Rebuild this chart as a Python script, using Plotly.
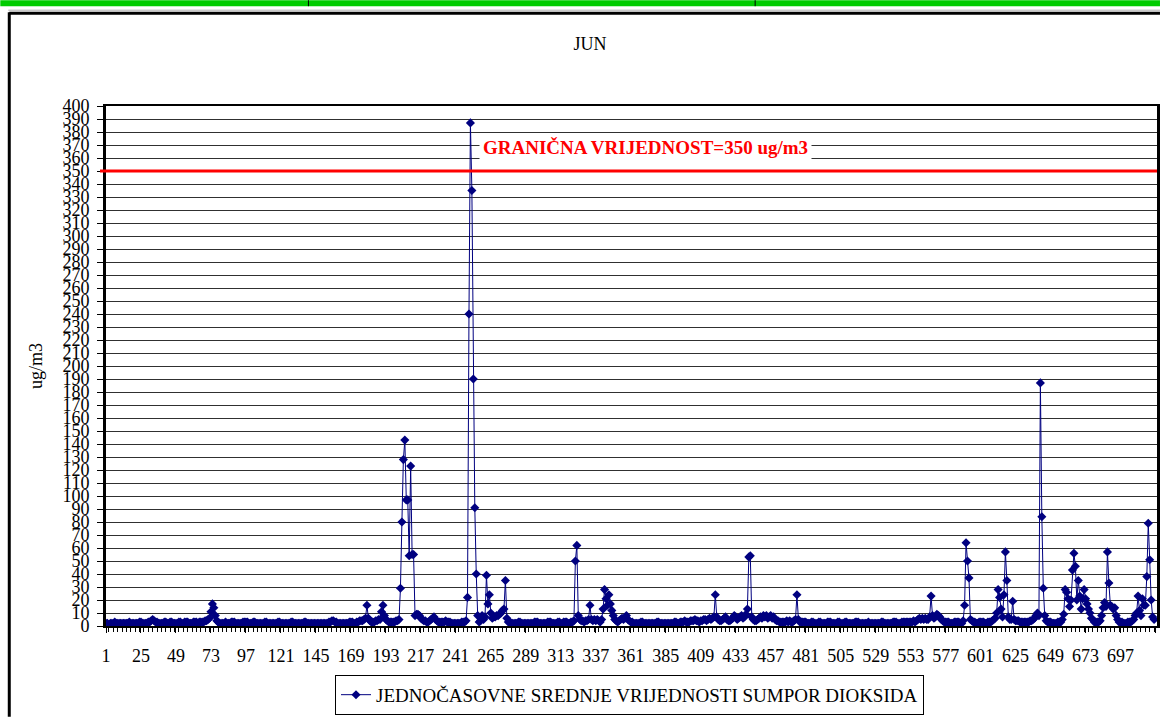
import plotly.graph_objects as go

# hourly SO2 means for June (ug/m3), one row per day
dani_1_10 = [
    2, 2, 1, 2, 2, 2, 3, 2, 2, 2, 2, 2, 2, 2, 2, 2, 3, 2, 2, 2, 2, 2, 2, 3,
    3, 2, 2, 2, 2, 3, 3, 4, 5, 4, 3, 3, 2, 2, 2, 2, 3, 3, 2, 2, 3, 3, 2, 2,
    2, 2, 3, 3, 2, 2, 3, 3, 3, 2, 2, 2, 3, 3, 3, 2, 3, 3, 3, 3, 4, 4, 5, 6,
    11, 17, 14, 8, 4, 3, 2, 2, 2, 2, 3, 2, 2, 2, 3, 3, 3, 2, 2, 2, 2, 2, 3, 3,
    3, 3, 2, 2, 2, 3, 3, 2, 2, 2, 2, 2, 2, 3, 3, 2, 2, 2, 2, 2, 2, 2, 3, 3,
    2, 2, 2, 2, 2, 2, 2, 3, 3, 2, 2, 2, 2, 2, 2, 2, 3, 3, 2, 2, 2, 2, 2, 2,
    2, 2, 2, 2, 2, 2, 2, 2, 2, 3, 3, 4, 4, 3, 3, 2, 2, 2, 2, 2, 2, 2, 2, 3,
    3, 3, 2, 2, 3, 3, 4, 4, 4, 5, 6, 16, 6, 4, 3, 3, 3, 4, 4, 5, 5, 11, 16, 8,
    5, 4, 3, 3, 3, 3, 3, 4, 4, 5, 29, 80, 128, 143, 97, 97, 54, 123, 55, 55, 8, 9, 9, 8,
    6, 5, 4, 4, 3, 3, 4, 5, 6, 7, 5, 4, 3, 3, 3, 3, 3, 4, 3, 3, 3, 2, 2, 2,
]
dani_11_20 = [
    2, 2, 2, 2, 3, 3, 3, 4, 22, 240, 387, 335, 190, 91, 40, 8, 3, 4, 8, 5, 7, 39, 17, 24,
    10, 6, 7, 7, 8, 8, 9, 10, 12, 13, 35, 6, 3, 3, 2, 2, 2, 2, 2, 3, 3, 2, 2, 2,
    2, 2, 2, 2, 2, 2, 3, 3, 3, 2, 2, 2, 2, 2, 2, 3, 3, 3, 2, 2, 2, 2, 3, 3,
    2, 2, 3, 3, 3, 2, 2, 3, 3, 4, 50, 62, 8, 5, 4, 4, 3, 4, 4, 5, 16, 5, 4, 5,
    4, 5, 4, 3, 5, 13, 28, 21, 16, 24, 17, 12, 8, 5, 4, 3, 4, 5, 6, 5, 6, 8, 5, 4,
    3, 3, 2, 2, 2, 2, 2, 3, 3, 2, 2, 2, 2, 2, 2, 2, 2, 2, 3, 3, 2, 2, 2, 2,
    2, 2, 2, 2, 2, 2, 3, 3, 2, 2, 3, 3, 3, 4, 3, 3, 3, 4, 4, 4, 5, 4, 4, 3,
    4, 4, 5, 5, 4, 5, 6, 5, 6, 7, 24, 7, 5, 4, 4, 5, 6, 7, 5, 4, 4, 5, 6, 8,
    7, 5, 6, 7, 8, 6, 7, 9, 13, 53, 54, 7, 5, 4, 4, 5, 6, 7, 6, 8, 7, 8, 6, 7,
    8, 6, 7, 5, 4, 4, 3, 3, 3, 3, 3, 4, 3, 4, 3, 3, 4, 5, 24, 5, 3, 3, 3, 3,
]
dani_21_30 = [
    3, 2, 2, 2, 3, 3, 2, 2, 2, 3, 3, 2, 2, 2, 2, 3, 3, 3, 2, 2, 2, 2, 3, 3,
    2, 2, 2, 3, 3, 2, 2, 2, 2, 2, 3, 3, 3, 2, 2, 2, 2, 2, 2, 3, 2, 2, 2, 2,
    2, 2, 2, 2, 3, 3, 2, 2, 2, 2, 2, 2, 3, 3, 3, 2, 2, 2, 3, 3, 3, 3, 3, 3,
    3, 3, 4, 3, 4, 5, 6, 5, 6, 5, 6, 5, 5, 7, 23, 8, 6, 7, 9, 8, 7, 5, 4, 3,
    3, 3, 3, 2, 2, 2, 3, 3, 3, 3, 2, 2, 4, 16, 64, 50, 37, 5, 4, 3, 3, 2, 2, 3,
    3, 3, 3, 2, 2, 3, 3, 3, 4, 5, 6, 10, 28, 22, 13, 7, 24, 57, 35, 7, 5, 5, 19, 5,
    4, 4, 4, 3, 3, 3, 3, 3, 3, 3, 4, 4, 5, 6, 8, 10, 8, 187, 84, 29, 8, 4, 3, 3,
    3, 2, 2, 2, 2, 3, 3, 3, 5, 9, 28, 26, 21, 15, 20, 43, 56, 46, 20, 35, 23, 13, 21, 28,
    21, 17, 13, 10, 6, 5, 3, 3, 3, 3, 4, 8, 14, 18, 15, 57, 33, 16, 15, 13, 14, 8, 5, 3,
    3, 3, 2, 2, 2, 3, 3, 3, 4, 5, 8, 10, 23, 12, 8, 21, 16, 16, 38, 79, 51, 20, 7, 5,
]
sati = list(range(1, 721))
vrijednosti = dani_1_10 + dani_11_20 + dani_21_30
granicna = 350

FONT = "Liberation Serif, Times New Roman, serif"

# plot area in pixels (for decoration shapes)
L, R, T, B = 106, 1160, 106, 627


def px_x(p):
    return (p - L) / (R - L)


def px_y(p):
    return (B - p) / (B - T)


fig = go.Figure()

fig.add_trace(
    go.Scatter(
        x=sati,
        y=vrijednosti,
        mode="lines+markers",
        name="JEDNOČASOVNE SREDNJE VRIJEDNOSTI SUMPOR DIOKSIDA",
        line=dict(color="#000080", width=1),
        marker=dict(symbol="diamond", size=7, color="#000080"),
    )
)

shapes = [
    # limit value line
    dict(type="line", xref="paper", yref="y", x0=px_x(100), x1=1, y0=granicna, y1=granicna,
         line=dict(color="#ff0000", width=3)),
    # green strip at the top of the page
    dict(type="rect", xref="paper", yref="paper", x0=px_x(0), x1=px_x(1163), y0=px_y(0), y1=px_y(6),
         fillcolor="#00cc00", line=dict(width=0), layer="below"),
    dict(type="line", xref="paper", yref="paper", x0=px_x(309), x1=px_x(309), y0=px_y(0), y1=px_y(6),
         line=dict(color="black", width=1)),
    dict(type="line", xref="paper", yref="paper", x0=px_x(757), x1=px_x(757), y0=px_y(0), y1=px_y(6),
         line=dict(color="black", width=1)),
    # outer frame
    dict(type="line", xref="paper", yref="paper", x0=px_x(8), x1=px_x(1163), y0=px_y(10), y1=px_y(10),
         line=dict(color="#b0b0b0", width=1)),
    dict(type="line", xref="paper", yref="paper", x0=px_x(9), x1=px_x(1163), y0=px_y(13), y1=px_y(13),
         line=dict(color="black", width=3)),
    dict(type="line", xref="paper", yref="paper", x0=px_x(9), x1=px_x(9), y0=px_y(12), y1=px_y(718),
         line=dict(color="black", width=3)),
]

fig.update_layout(
    width=1163,
    height=718,
    margin=dict(l=L, r=1163 - R, t=T, b=718 - B),
    paper_bgcolor="white",
    plot_bgcolor="white",
    font=dict(family=FONT, size=18, color="black"),
    title=dict(text="JUN", x=590 / 1163, xanchor="center", y=1 - 44 / 718, yanchor="middle",
               font=dict(family=FONT, size=18, color="black")),
    showlegend=True,
    legend=dict(
        orientation="h",
        x=px_x(631), xanchor="center",
        y=px_y(716), yanchor="bottom",
        bordercolor="black", borderwidth=1,
        font=dict(family=FONT, size=19, color="black"),
        itemwidth=30,
    ),
    shapes=shapes,
    annotations=[
        dict(text="<b>GRANIČNA VRIJEDNOST=350 ug/m3</b>", xref="paper", yref="y",
             x=px_x(647), y=368, showarrow=False, bgcolor="white", borderpad=3,
             font=dict(family=FONT, size=19, color="#ff0000")),
    ],
)

fig.update_xaxes(
    range=[1, 722],
    tickmode="linear", tick0=1, dtick=24,
    ticks="outside", ticklen=5, tickcolor="black",
    ticklabelstandoff=7,
    minor=dict(dtick=3, ticks="outside", ticklen=4, tickcolor="black", showgrid=False),
    showgrid=False, zeroline=False,
    showline=True, linecolor="black", linewidth=2, mirror=True,
    tickfont=dict(family=FONT, size=18, color="black"),
)

fig.update_yaxes(
    range=[0, 400],
    tickmode="linear", tick0=0, dtick=10,
    ticks="outside", ticklen=6, tickcolor="black",
    ticklabelstandoff=4,
    showgrid=True, gridcolor="#303030", gridwidth=1, zeroline=False,
    showline=True, linecolor="black", linewidth=3, mirror=True,
    tickfont=dict(family=FONT, size=18, color="black"),
    title=dict(text="ug/m3", font=dict(family=FONT, size=18, color="black"), standoff=16),
)

fig.write_html("out.html", config={"displayModeBar": False},
               post_script="document.body.style.margin='0';")
